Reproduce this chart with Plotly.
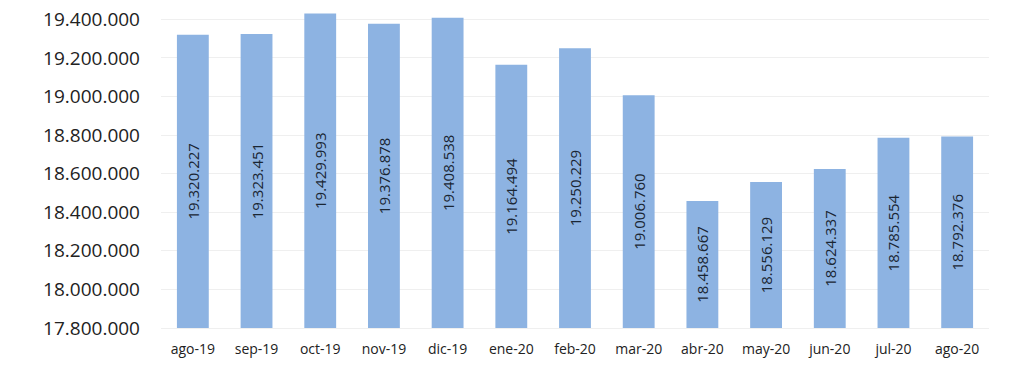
import plotly.graph_objects as go

months = ["ago-19", "sep-19", "oct-19", "nov-19", "dic-19", "ene-20", "feb-20",
          "mar-20", "abr-20", "may-20", "jun-20", "jul-20", "ago-20"]
values = [19320227, 19323451, 19429993, 19376878, 19408538, 19164494, 19250229,
          19006760, 18458667, 18556129, 18624337, 18785554, 18792376]
y_ticks = [17800000, 18000000, 18200000, 18400000, 18600000, 18800000,
           19000000, 19200000, 19400000]
axis_min = 17800000

labels = ["{:,}".format(v).replace(",", ".") for v in values]

fig = go.Figure(go.Bar(
    x=months,
    y=[v - axis_min for v in values],
    base=axis_min,
    marker=dict(color="#8DB3E2", line=dict(width=0)),
    width=0.5,
    text=labels,
    textposition="inside",
    insidetextanchor="middle",
    textangle=-90,
    textfont=dict(family="Open Sans", size=15, color="#1A2633"),
    constraintext="none",
))

fig.update_layout(
    width=1023, height=376,
    margin=dict(l=161, r=34, t=0, b=48),
    paper_bgcolor="white", plot_bgcolor="white",
    separators=",.",
    showlegend=False,
)
fig.update_yaxes(
    range=[17800000, 19500000],
    tickvals=y_ticks, tickformat=",d",
    showgrid=True, gridcolor="#EFEFEF", gridwidth=1,
    zeroline=False, showline=False,
    tickfont=dict(family="Open Sans", size=19, color="#222222"),
    ticklabelstandoff=20,
    automargin=False,
)
fig.update_xaxes(
    showgrid=False, showline=True, linecolor="#EFEFEF",
    tickfont=dict(family="Open Sans", size=14, color="#222222"),
    ticklabelstandoff=8,
    automargin=False,
)

fig.write_html("out.html", config={"displayModeBar": False},
               post_script="document.body.style.margin='0px';document.body.style.overflow='hidden';")
